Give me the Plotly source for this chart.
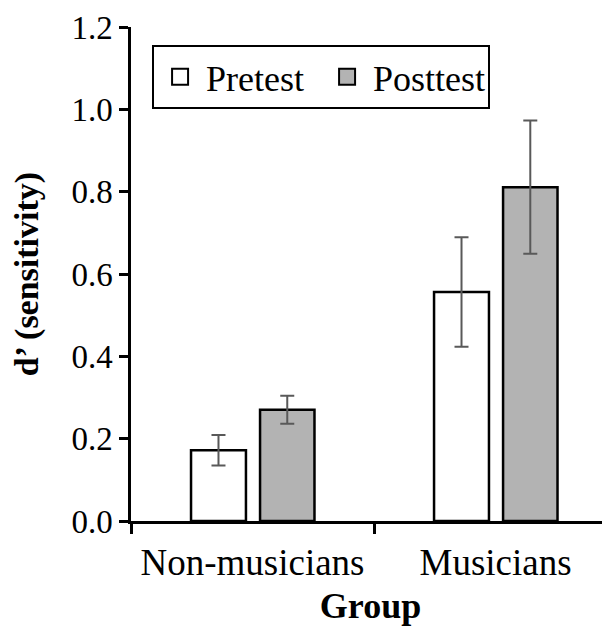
import plotly.graph_objects as go

groups = ["Non-musicians", "Musicians"]
pretest = [0.172, 0.556]
pretest_err = [0.037, 0.133]
posttest = [0.270, 0.811]
posttest_err = [0.034, 0.162]
y_ticks = [0.0, 0.2, 0.4, 0.6, 0.8, 1.0, 1.2]
series_names = ["Pretest", "Posttest"]
series_colors = ["white", "#b3b3b3"]

FONT = "Liberation Serif, Times New Roman, serif"

fig = go.Figure()
fig.add_trace(go.Bar(
    name=series_names[0], x=groups, y=pretest, showlegend=False,
    error_y=dict(type="data", array=pretest_err, color="#595959", thickness=2, width=7),
    marker=dict(color=series_colors[0], line=dict(color="black", width=2.5)),
    offset=-0.253, width=0.226,
))
fig.add_trace(go.Bar(
    name=series_names[1], x=groups, y=posttest, showlegend=False,
    error_y=dict(type="data", array=posttest_err, color="#595959", thickness=2, width=7),
    marker=dict(color=series_colors[1], line=dict(color="black", width=2.5)),
    offset=0.031, width=0.224,
))
# legend-only entries with larger square swatches
for nm, col in zip(series_names, series_colors):
    fig.add_trace(go.Scatter(
        name=nm, x=[None], y=[None], mode="markers",
        marker=dict(symbol="square", size=16, color=col, line=dict(color="black", width=2)),
    ))

fig.update_layout(
    width=602, height=618,
    margin=dict(l=123, r=0, t=19, b=105, autoexpand=False),
    paper_bgcolor="white", plot_bgcolor="white",
    font=dict(family=FONT, size=33, color="black"),
    barmode="group",
    showlegend=True,
    legend=dict(
        orientation="h", x=0.044, y=0.964, xanchor="left", yanchor="top",
        bordercolor="black", borderwidth=2, bgcolor="white",
        font=dict(family=FONT, size=36),
        itemwidth=42, itemsizing="trace", entrywidth=110,
        tracegroupgap=0,
    ),
    xaxis=dict(
        range=[-0.5, 1.471], showline=True, linecolor="black", linewidth=2.5,
        ticks="outside", tickson="boundaries", ticklen=10, tickwidth=2.5, tickcolor="black",
        showgrid=False, zeroline=False, automargin=False, ticklabelstandoff=7,
        title=dict(text="<b>Group</b>", font=dict(family=FONT, size=36), standoff=14),
        tickfont=dict(family=FONT, size=37),
    ),
    yaxis=dict(
        range=[0, 1.2], tickvals=y_ticks, tickformat=".1f",
        showline=True, linecolor="black", linewidth=2.5,
        ticks="outside", ticklen=9, tickwidth=2.5, tickcolor="black",
        showgrid=False, zeroline=False, automargin=False,
        title=dict(text="<b>d’ (sensitivity)</b>", font=dict(family=FONT, size=34), standoff=29),
        tickfont=dict(family=FONT, size=33),
    ),
)

fig.write_html("out.html")
